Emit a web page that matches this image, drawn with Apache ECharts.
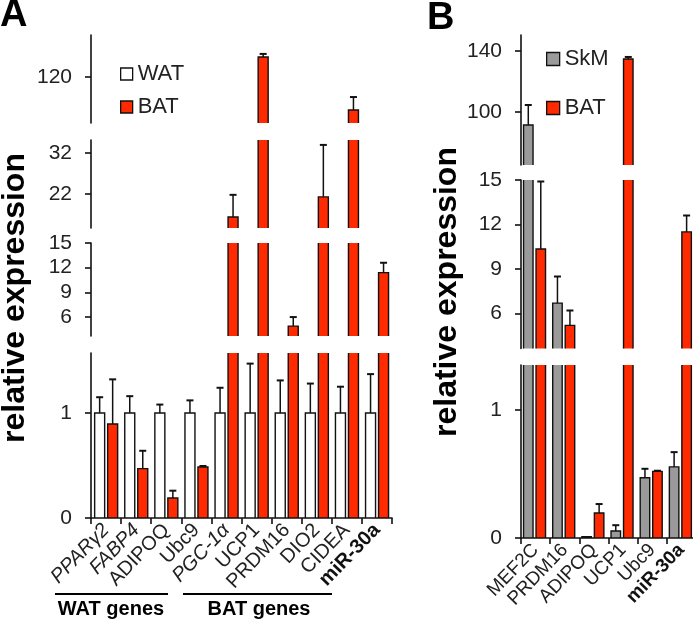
<!DOCTYPE html>
<html><head><meta charset="utf-8">
<script src="https://cdn.jsdelivr.net/npm/echarts@6/dist/echarts.min.js"></script>
<style>html,body{margin:0;padding:0;background:#fff}#c{width:693px;height:622px}</style>
</head><body><div id="c"></div>
<script>
// ---------- data: panel A ----------
const catsA = ['PPARγ2','FABP4','ADIPOQ','Ubc9','PGC-1α','UCP1','PRDM16','DIO2','CIDEA','miR-30a'];
const watA    = [1, 1, 1, 1, 1, 1, 1, 1, 1, 1];
const watAErr = [1.15, 1.16, 1.08, 1.12, 1.24, 1.47, 1.31, 1.28, 1.25, 1.37];
const batA    = [0.895, 0.47, 0.19, 0.485, 16.4, 129, 4.9, 21.3, 104.9, 11.4];
const batAErr = [1.32, 0.64, 0.26, 0.495, 21.8, 130.4, 6.0, 34, 110.8, 12.6];
const ticksA = [[120], [22, 32], [6, 9, 12, 15], [0, 1]];
// ---------- data: panel B ----------
const catsB = ['MEF2C','PRDM16','ADIPOQ','UCP1','Ubc9','miR-30a'];
const skmB    = [91.5, 6.7, 0.01, 0.055, 0.47, 0.555];
const skmBErr = [104.6, 8.5, 0.01, 0.10, 0.54, 0.67];
const batB    = [10.35, 5.2, 0.195, 134.8, 0.52, 11.5];
const batBErr = [14.9, 6.2, 0.265, 136.1, 0.525, 12.6];
const ticksB = [[100, 140], [6, 9, 12, 15], [0, 1]];

// ---------- layout config ----------
const FONT = 'Liberation Sans, Arial, sans-serif';
const INK = '#111';
const RED = '#ff2a00';
const GRAY = '#9a9a9a';
const segA = [
  {top: 35, height: 88, min: 99, max: 139},
  {top: 140, height: 88, min: 13.7, max: 35.2},
  {top: 243, height: 93, min: 3.7, max: 15},
  {top: 353, height: 165, min: 0, max: 1.571}
];
const segB = [
  {top: 35, height: 130, min: 65.25, max: 150.5},
  {top: 180, height: 168.5, min: 3.64, max: 15},
  {top: 365, height: 173, min: 0, max: 1.35}
];
const italicSet = ['PPARγ2', 'FABP4', 'PGC-1α'];
const boldSet = ['miR-30a'];

const grids = [], xAxes = [], yAxes = [], series = [];

function labelFmt(v) {
  if (boldSet.includes(v)) return '{b|' + v + '}';
  if (italicSet.includes(v)) return '{i|' + v + '}';
  return '{n|' + v + '}';
}

function mkSeries(name, idx, vals, errs, color, offset, w) {
  return {
    type: 'custom', name, xAxisIndex: idx, yAxisIndex: idx, clip: true,
    itemStyle: {color},
    data: vals.map((v, i) => [i, v, errs[i]]),
    encode: {x: 0, y: 1},
    renderItem: function (params, api) {
      const i = api.value(0), v = api.value(1), e = api.value(2);
      const p0 = api.coord([i, 0]), p1 = api.coord([i, v]), p2 = api.coord([i, e]);
      const cx = p0[0] + offset;
      const ch = [{
        type: 'rect',
        shape: {x: cx - w / 2, y: p1[1], width: w, height: p0[1] - p1[1]},
        style: {fill: color, stroke: INK, lineWidth: 1.4}
      }];
      if (e > v) {
        ch.push({type: 'line', shape: {x1: cx, y1: p1[1], x2: cx, y2: p2[1]}, style: {stroke: INK, lineWidth: 1.5}});
        ch.push({type: 'line', shape: {x1: cx - 3.5, y1: p2[1], x2: cx + 3.5, y2: p2[1]}, style: {stroke: INK, lineWidth: 2}});
      }
      return {type: 'group', children: ch};
    }
  };
}

function addPanel(segs, ticks, cats, left, width, labelSize, s1, s2) {
  segs.forEach((s, k) => {
    const idx = grids.length;
    const bottom = k === segs.length - 1;
    grids.push({left, top: s.top, width, height: s.height, outerBoundsMode: 'none'});
    xAxes.push({
      type: 'category', gridIndex: idx, data: cats, show: bottom,
      axisLine: {show: true, onZero: false, lineStyle: {color: INK, width: 1.6}},
      axisTick: {show: true, length: 6, lineStyle: {color: INK, width: 1.6}},
      axisLabel: {
        show: true, rotate: 46, margin: 9, interval: 0, formatter: labelFmt,
        fontSize: labelSize, fontFamily: FONT, color: '#222',
        rich: {
          n: {fontSize: labelSize, fontFamily: FONT, color: '#222'},
          i: {fontSize: labelSize, fontFamily: FONT, color: '#222', fontStyle: 'italic'},
          b: {fontSize: labelSize, fontFamily: FONT, color: '#111', fontWeight: 'bold'}
        }
      },
      splitLine: {show: false}
    });
    yAxes.push({
      type: 'value', gridIndex: idx, min: s.min, max: s.max,
      axisLine: {show: true, onZero: false, lineStyle: {color: INK, width: 1.6}},
      axisTick: {show: true, length: 6, customValues: ticks[k], lineStyle: {color: INK, width: 1.6}},
      axisLabel: {show: true, customValues: ticks[k], fontSize: 21, fontFamily: FONT, color: '#222', margin: 19, showMinLabel: true, showMaxLabel: true},
      splitLine: {show: false}
    });
    series.push(mkSeries(s1.name, idx, s1.vals, s1.errs, s1.color, s1.off, s1.w));
    series.push(mkSeries(s2.name, idx, s2.vals, s2.errs, s2.color, s2.off, s2.w));
  });
}

addPanel(segA, ticksA, catsA, 91, 301, 20,
  {name: 'WAT', vals: watA, errs: watAErr, color: '#ffffff', off: -6.4, w: 10},
  {name: 'BAT', vals: batA, errs: batAErr, color: RED, off: 6.6, w: 10});
addPanel(segB, ticksB, catsB, 521, 175, 19,
  {name: 'SkM', vals: skmB, errs: skmBErr, color: GRAY, off: -7.3, w: 9.5},
  {name: 'BAT', vals: batB, errs: batBErr, color: RED, off: 5.2, w: 9.5});

const legendText = {fontSize: 22, fontFamily: FONT, color: '#222'};
const option = {
  animation: false,
  backgroundColor: '#fff',
  grid: grids, xAxis: xAxes, yAxis: yAxes, series,
  legend: [
    {orient: 'vertical', left: 120, top: 63, padding: 0, itemWidth: 12, itemHeight: 12, itemGap: 11, icon: 'rect',
     selectedMode: false, textStyle: legendText,
     data: [{name: 'WAT', itemStyle: {color: '#fff', borderColor: INK, borderWidth: 1.3}},
            {name: 'BAT', itemStyle: {color: RED, borderColor: INK, borderWidth: 1.3}}]},
    {orient: 'vertical', left: 546, top: 48, padding: 0, itemWidth: 13, itemHeight: 13, itemGap: 27, icon: 'rect',
     selectedMode: false, textStyle: legendText,
     data: [{name: 'SkM', itemStyle: {color: GRAY, borderColor: INK, borderWidth: 1.3}},
            {name: 'BAT', itemStyle: {color: RED, borderColor: INK, borderWidth: 1.3}}]}
  ],
  graphic: [
    {type: 'text', left: 0, top: -3, style: {text: 'A', fontSize: 38, fontWeight: 'bold', fontFamily: FONT, fill: '#000'}},
    {type: 'text', left: 427, top: 0, style: {text: 'B', fontSize: 38, fontWeight: 'bold', fontFamily: FONT, fill: '#000'}},
    {type: 'text', x: 15, y: 298, rotation: Math.PI / 2,
     style: {text: 'relative expression', x: 0, y: 0, align: 'center', verticalAlign: 'middle', fontSize: 32, fontWeight: 'bold', fontFamily: FONT, fill: '#000'}},
    {type: 'text', x: 447, y: 292, rotation: Math.PI / 2,
     style: {text: 'relative expression', x: 0, y: 0, align: 'center', verticalAlign: 'middle', fontSize: 32, fontWeight: 'bold', fontFamily: FONT, fill: '#000'}},
    {type: 'line', shape: {x1: 55, y1: 594, x2: 168, y2: 594}, style: {stroke: '#000', lineWidth: 2}},
    {type: 'line', shape: {x1: 183, y1: 594, x2: 332, y2: 594}, style: {stroke: '#000', lineWidth: 2}},
    {type: 'text', x: 111, y: 609, style: {text: 'WAT genes', x: 0, y: 0, align: 'center', verticalAlign: 'middle', fontSize: 20, fontWeight: 'bold', fontFamily: FONT, fill: '#000'}},
    {type: 'text', x: 259, y: 609, style: {text: 'BAT genes', x: 0, y: 0, align: 'center', verticalAlign: 'middle', fontSize: 20, fontWeight: 'bold', fontFamily: FONT, fill: '#000'}}
  ]
};
const chart = echarts.init(document.getElementById('c'));
chart.setOption(option);
</script>
</body></html>
